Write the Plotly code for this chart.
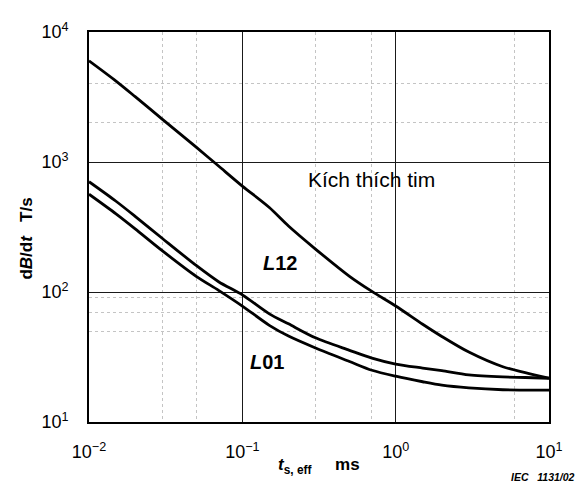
import plotly.graph_objects as go

t_ms = [0.01, 0.015, 0.02, 0.03, 0.05, 0.07, 0.1, 0.15, 0.2, 0.3, 0.5, 0.7,
        1, 1.5, 2, 3, 5, 7, 10]
heart = [6000, 4190, 3180, 2140, 1300, 931, 653, 447, 322, 214, 132, 101,
         78, 56.5, 45.5, 34.5, 26.6, 24.0, 21.7]
l12 = [705, 499, 382, 259, 160, 120, 95, 67.9, 56.9, 44.4, 35.6, 31.0,
       27.9, 26.0, 24.8, 23.0, 22.2, 22.0, 21.7]
l01 = [565, 399, 306, 208, 132, 103, 78, 55.4, 45.8, 37.1, 29.2, 25.0,
       22.5, 20.4, 19.2, 18.3, 17.7, 17.6, 17.6]

x_ticks = [0.01, 0.1, 1, 10]
x_ticktext = ["10<sup>−2</sup>", "10<sup>−1</sup>", "10<sup>0</sup>", "10<sup>1</sup>"]
y_ticks = [10, 100, 1000, 10000]
y_ticktext = ["10<sup>1</sup>", "10<sup>2</sup>", "10<sup>3</sup>", "10<sup>4</sup>"]
x_minor = [0.03, 0.05, 0.3, 0.7, 6]
y_minor = [50, 70, 90, 2000, 4000]

FONT = "Liberation Sans, Arial, sans-serif"

fig = go.Figure()
for ys in (heart, l12, l01):
    fig.add_trace(go.Scatter(x=t_ms, y=ys, mode="lines",
                             line=dict(color="black", width=2.8, shape="spline",
                                       smoothing=0.8),
                             showlegend=False, hoverinfo="skip"))

axis_common = dict(
    type="log", showline=True, linecolor="black", linewidth=1.6, mirror=True,
    showgrid=True, gridcolor="#1a1a1a", gridwidth=1.4,
    ticks="", tickfont=dict(family=FONT, size=18, color="black"),
    zeroline=False,
)

fig.update_xaxes(**axis_common, range=[-2, 1], tickvals=x_ticks, ticktext=x_ticktext,
                 ticklabelstandoff=13,
                 minor=dict(tickmode="array", tickvals=x_minor, showgrid=True,
                            gridcolor="#c4c4c4", griddash="dot", gridwidth=1))
fig.update_yaxes(**axis_common, range=[1, 4], tickvals=y_ticks, ticktext=y_ticktext,
                 ticklabelstandoff=15,
                 minor=dict(tickmode="array", tickvals=y_minor, showgrid=True,
                            gridcolor="#c4c4c4", griddash="dot", gridwidth=1))

common = dict(showarrow=False, xanchor="center", yanchor="middle")
ann = [
    dict(x=-0.16, y=2.865, xref="x", yref="y", text="Kích thích tim",
         font=dict(family=FONT, size=21, color="black"), **common),
    dict(x=-0.754, y=2.226, xref="x", yref="y", text="<b><i>L</i>12</b>",
         font=dict(family=FONT, size=20, color="black"), **common),
    dict(x=-0.839, y=1.46, xref="x", yref="y", text="<b><i>L</i>01</b>",
         font=dict(family=FONT, size=20, color="black"), **common),
    dict(x=-0.135, y=0.47, xref="paper", yref="paper", textangle=-90,
         text="<b>d<i>B</i>/d<i>t</i>   T/s</b>",
         font=dict(family=FONT, size=17, color="black"), **common),
    dict(x=0.5, y=-0.112, xref="paper", yref="paper",
         text="<b><i>t</i><sub>s, eff</sub>     ms</b>",
         font=dict(family=FONT, size=17, color="black"), **common),
    dict(x=1.06, y=-0.14, xref="paper", yref="paper", xanchor="right",
         yanchor="middle", showarrow=False,
         text="<b><i>IEC   1131/02</i></b>",
         font=dict(family=FONT, size=10.5, color="black")),
]

fig.update_layout(
    width=575, height=480,
    margin=dict(l=81, r=34, t=14, b=66),
    plot_bgcolor="white", paper_bgcolor="white",
    annotations=ann,
)

fig.write_html("out.html")
